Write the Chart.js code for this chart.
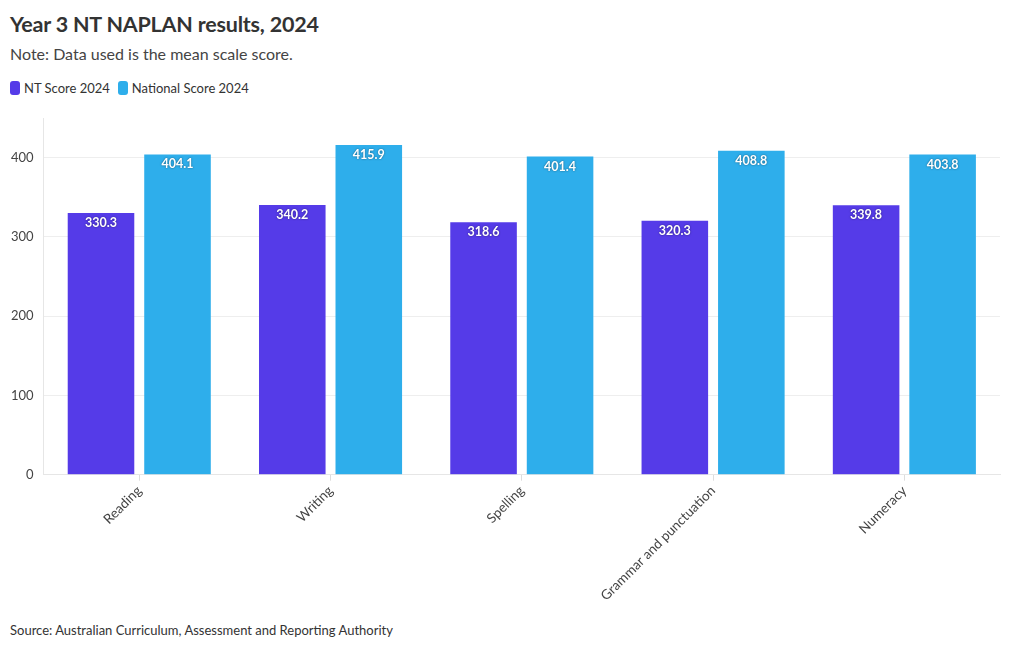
<!DOCTYPE html>
<html><head><meta charset="utf-8">
<script src="https://cdn.jsdelivr.net/npm/chart.js@4.4.1/dist/chart.umd.min.js"></script>
<style>
html,body{margin:0;padding:0;background:#fff;width:1020px;height:650px;overflow:hidden;font-family:"Source Sans Pro","Lato","Roboto",sans-serif;}
#title{position:absolute;left:10px;top:11px;font-size:21.5px;font-weight:700;color:#333;letter-spacing:-0.2px;}
#sub{position:absolute;left:10px;top:44px;font-size:16px;color:#444;}
#legend{position:absolute;left:10px;top:80px;font-size:13px;color:#333;display:flex;gap:8px;}
#legend span.i{display:flex;align-items:center;}
#legend span.sw{display:inline-block;width:10px;height:14px;border-radius:3px;margin-right:4px;}
#source{position:absolute;left:10px;top:622px;font-size:13px;color:#333;}
#wrap{position:absolute;left:0;top:100px;width:1020px;height:506px;}
</style></head>
<body>
<div id="title">Year 3 NT NAPLAN results, 2024</div>
<div id="sub">Note: Data used is the mean scale score.</div>
<div id="legend"></div>
<div id="source">Source: Australian Curriculum, Assessment and Reporting Authority</div>
<div id="wrap"><canvas id="c"></canvas></div>
<script>
const categories = ["Reading", "Writing", "Spelling", "Grammar and punctuation", "Numeracy"];
const ntScore = [330.3, 340.2, 318.6, 320.3, 339.8];
const nationalScore = [404.1, 415.9, 401.4, 408.8, 403.8];
const seriesNames = ["NT Score 2024", "National Score 2024"];
const seriesColors = ["#553be8", "#2eaeeb"];
const yTicks = [0, 100, 200, 300, 400];

const lg = document.getElementById('legend');
seriesNames.forEach((n,i)=>{
  const s=document.createElement('span');s.className='i';
  s.innerHTML='<span class="sw" style="background:'+seriesColors[i]+'"></span>'+n;
  lg.appendChild(s);
});

const FONT = '"Source Sans Pro","Lato","Roboto",sans-serif';
const labelPlugin = {
  id:'barLabels',
  afterDatasetsDraw(chart){
    const ctx=chart.ctx;
    ctx.save();
    ctx.font='bold 12.5px '+FONT;
    ctx.textAlign='center';ctx.textBaseline='middle';
    chart.data.datasets.forEach((ds,di)=>{
      chart.getDatasetMeta(di).data.forEach((bar,i)=>{
        const v=ds.data[i];
        ctx.shadowColor='rgba(0,0,0,0.5)';ctx.shadowBlur=2;
        ctx.fillStyle='#fff';
        ctx.fillText(v.toFixed(1), bar.x, bar.y+10);
      });
    });
    ctx.restore();
  }
};

new Chart(document.getElementById('c'),{
  type:'bar',
  data:{labels:categories,datasets:[
    {label:seriesNames[0],data:ntScore,backgroundColor:seriesColors[0],categoryPercentage:0.8,barPercentage:0.87},
    {label:seriesNames[1],data:nationalScore,backgroundColor:seriesColors[1],categoryPercentage:0.8,barPercentage:0.87}
  ]},
  options:{
    responsive:true,maintainAspectRatio:false,animation:false,
    layout:{padding:{top:18,right:20,left:1,bottom:0}},
    plugins:{legend:{display:false},tooltip:{enabled:false}},
    scales:{
      x:{
        grid:{display:true,offset:false,drawOnChartArea:false,drawTicks:true,tickLength:6,color:'#ddd'},
        border:{color:'#e6e6e6'},
        ticks:{maxRotation:45,minRotation:45,color:'#444',font:{family:FONT,size:13.5},padding:2}
      },
      y:{
        min:0,max:450,
        afterBuildTicks(axis){axis.ticks=yTicks.map(v=>({value:v}));},
        grid:{color:'#eeeeee',drawTicks:false},
        border:{color:'#e6e6e6'},
        ticks:{color:'#444',font:{family:FONT,size:13},padding:10}
      }
    }
  },
  plugins:[labelPlugin]
});
</script>
</body></html>
